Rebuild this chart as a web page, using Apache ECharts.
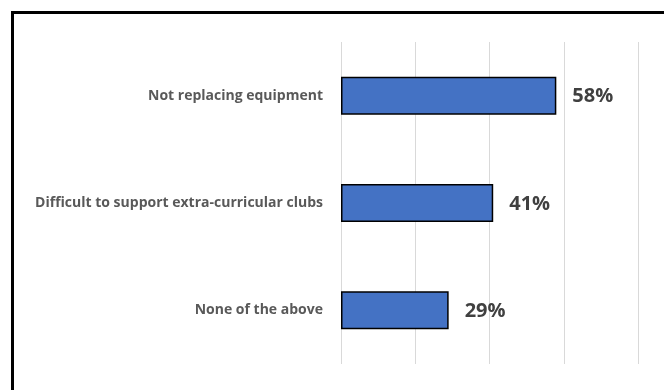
<!DOCTYPE html>
<html><head><meta charset="utf-8">
<script src="https://cdn.jsdelivr.net/npm/echarts@6/dist/echarts.min.js"></script>
<style>html,body{margin:0;padding:0;background:#fff}#c{width:664px;height:390px}</style>
</head><body><div id="c"></div>
<script>
const categories = ["Not replacing equipment", "Difficult to support extra-curricular clubs", "None of the above"];
const values = [58, 41, 29];
const axisMax = 80;
const axisStep = 20;

const chart = echarts.init(document.getElementById('c'), null, {renderer: 'canvas'});
chart.setOption({
  animation: false,
  backgroundColor: '#fff',
  graphic: [{
    type: 'rect', silent: true, z: 100,
    shape: {x: 12.5, y: 12.5, width: 700, height: 450},
    style: {fill: 'none', stroke: '#000', lineWidth: 3}
  }],
  grid: {left: 341, right: 26, top: 42, bottom: 26, containLabel: false},
  xAxis: {
    type: 'value', min: 0, max: axisMax, interval: axisStep,
    axisLabel: {show: false}, axisLine: {show: false}, axisTick: {show: false},
    splitLine: {show: true, lineStyle: {color: '#d9d9d9', width: 1}}
  },
  yAxis: {
    type: 'category', data: categories, inverse: true,
    axisLine: {show: false}, axisTick: {show: false},
    axisLabel: {margin: 18, color: '#595959', fontFamily: 'Open Sans', fontWeight: 'bold', fontSize: 14}
  },
  series: [{
    type: 'bar', data: values, barWidth: 38,
    itemStyle: {color: '#4472C4', borderColor: '#000', borderWidth: 1.5},
    label: {show: true, position: 'right', distance: 16, offset: [0, 1], formatter: p => p.value + '%',
      color: '#404040', fontFamily: 'Open Sans', fontWeight: 'bold', fontSize: 20}
  }]
});
</script></body></html>
